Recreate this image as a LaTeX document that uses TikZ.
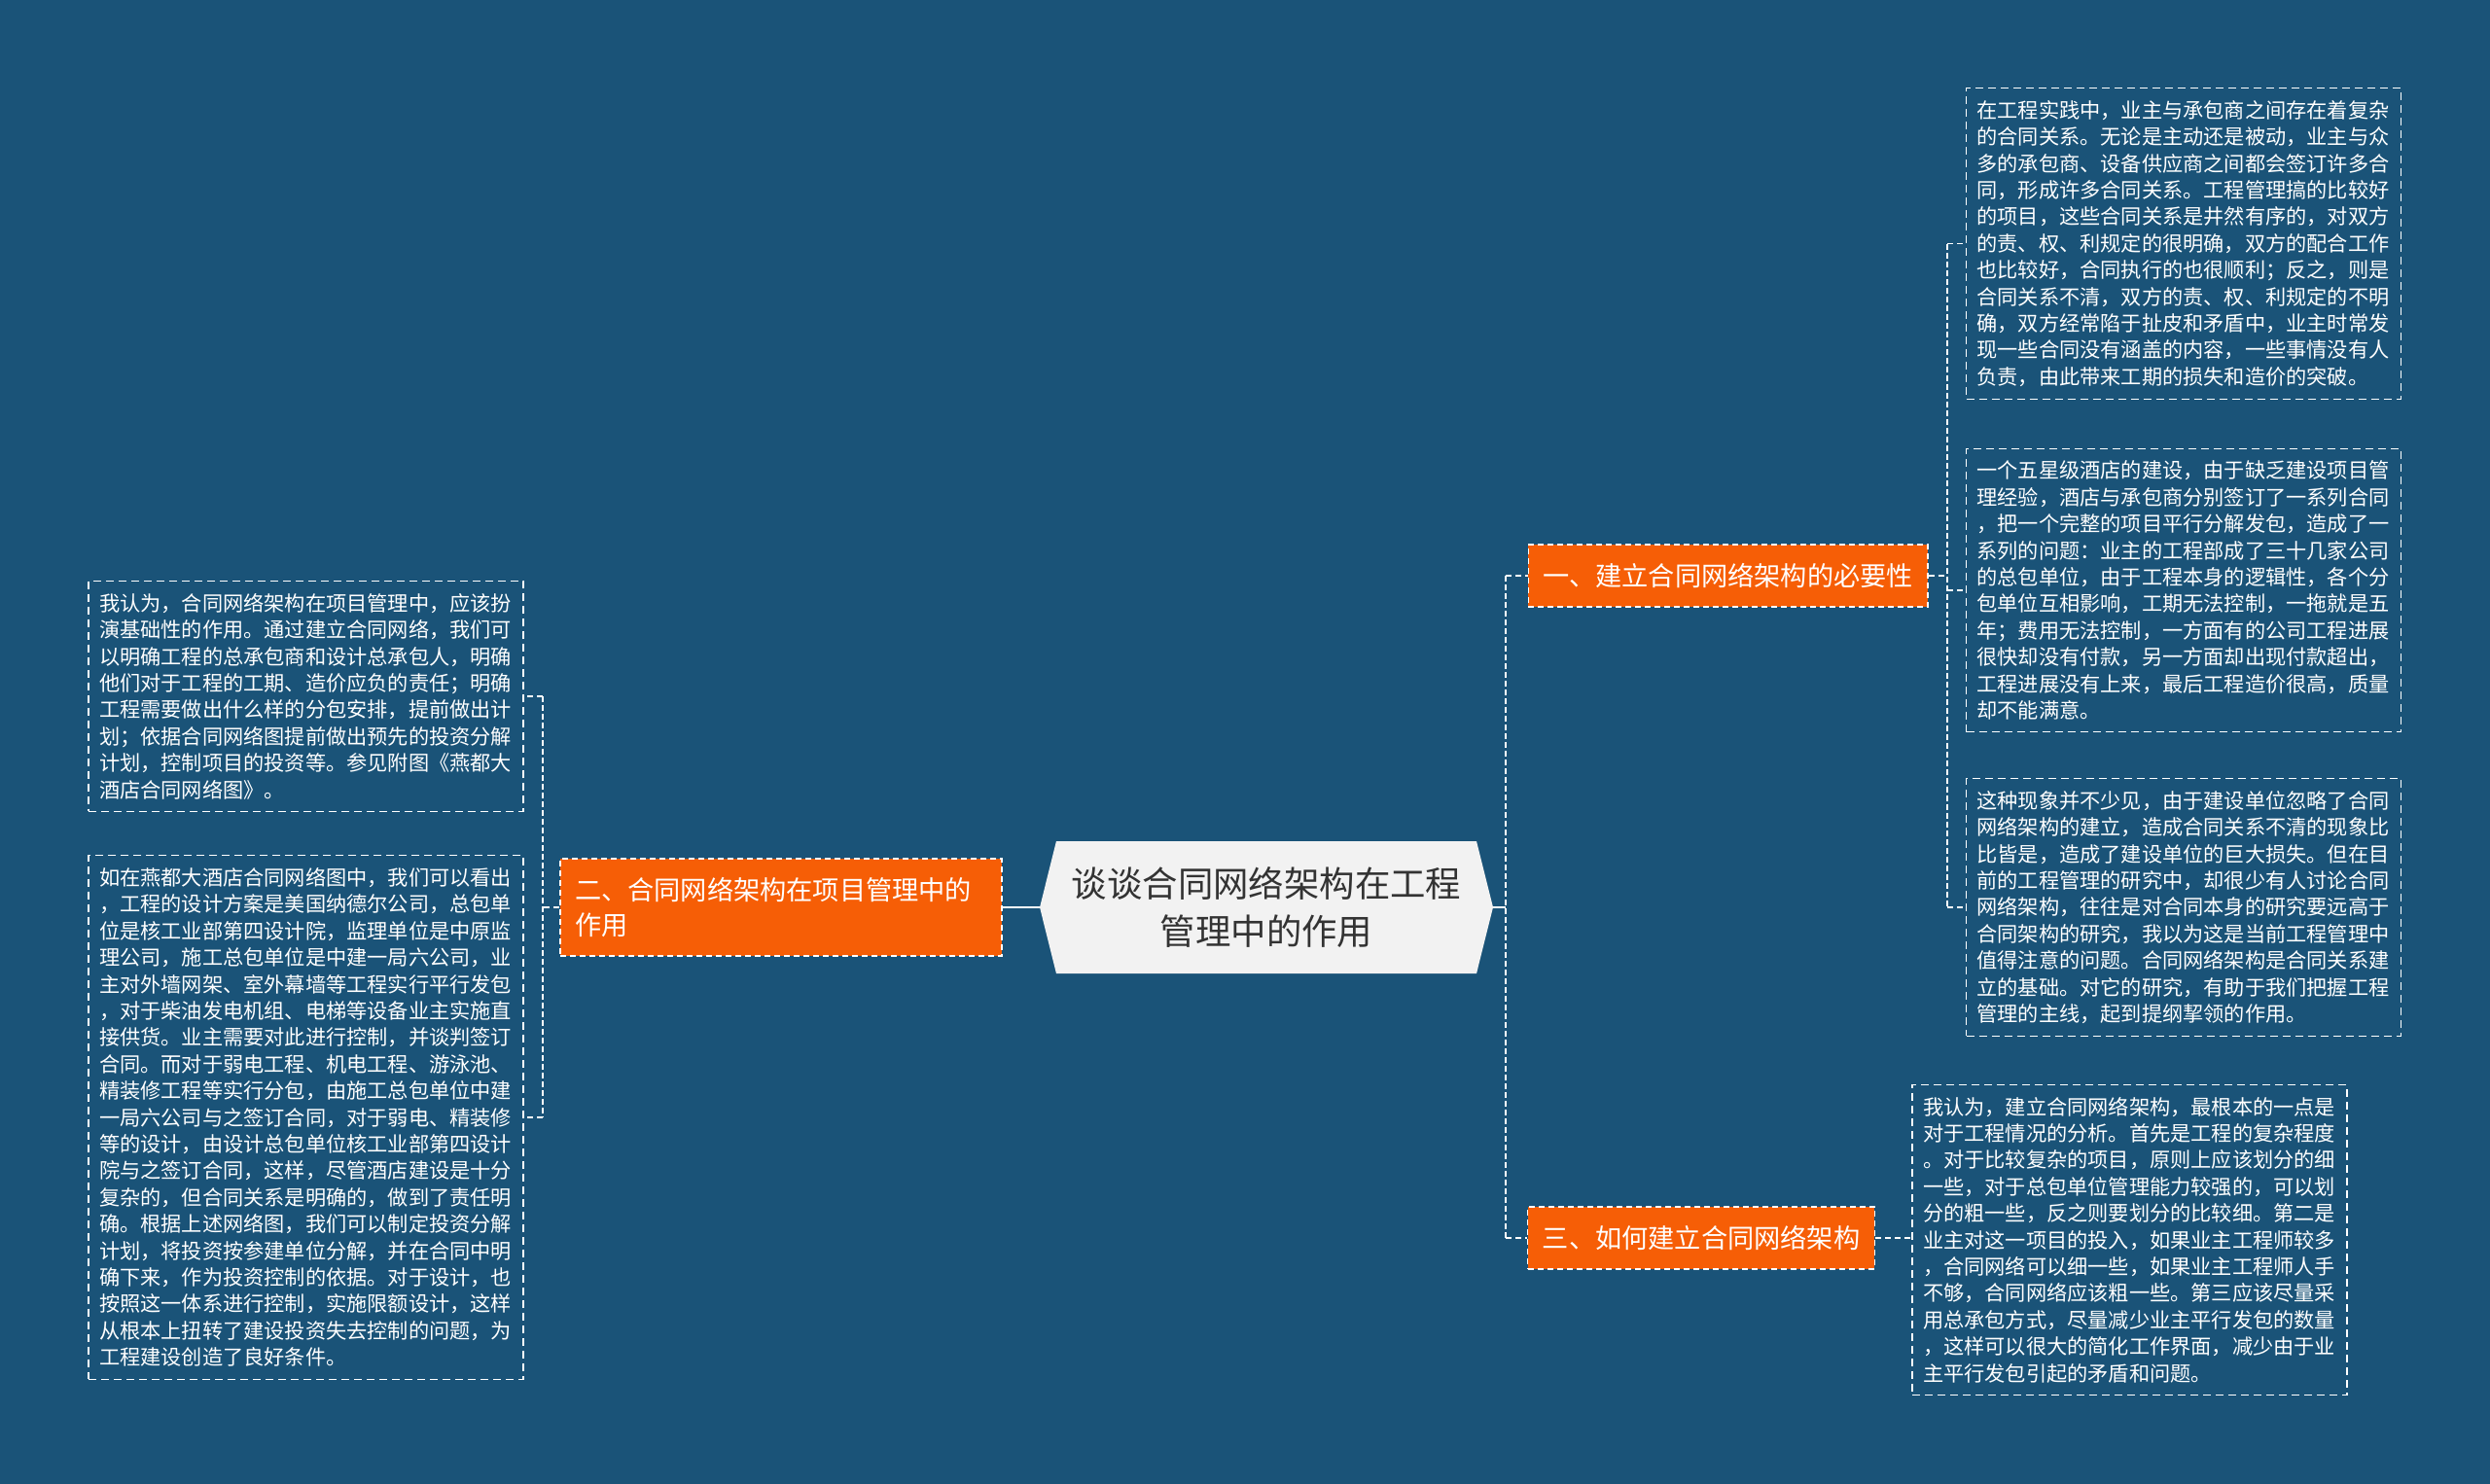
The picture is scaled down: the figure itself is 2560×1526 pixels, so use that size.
\documentclass[tikz,border=0pt]{standalone}
\usepackage{fontspec}
\setmainfont{Noto Sans CJK SC}
\usepackage{xcolor}
\usetikzlibrary{positioning, shapes.symbols}
\definecolor{bgblue}{RGB}{26,83,120}
\definecolor{branchorange}{RGB}{246,94,6}
\definecolor{rootgray}{RGB}{242,242,242}
\definecolor{roottext}{RGB}{51,51,51}

\begin{document}
\begin{tikzpicture}[x=0.5pt, y=-0.5pt,
    root/.style={signal, signal to=west and east, signal pointer angle=152, fill=rootgray, text=roottext,
        minimum width=233pt, minimum height=68pt, align=center, inner sep=0pt,
        font=\fontsize{18.2pt}{24.5pt}\selectfont},
    branch/.style={fill=branchorange, draw=white, dash pattern=on 3pt off 2pt, line width=0.6pt, text=white,
        font=\fontsize{13.6pt}{18pt}\selectfont, inner xsep=7.5pt, minimum height=32pt, align=left},
    leaf/.style={draw=white, dash pattern=on 4pt off 2.5pt, line width=0.6pt, text=white,
        font=\fontsize{10.6pt}{13.7pt}\selectfont, text width=212.5pt, align=left, inner xsep=5.5pt, inner ysep=6.3pt},
    link/.style={draw=white, line width=1pt},
    twig/.style={draw=white, line width=0.8pt, dash pattern=on 3pt off 2pt},
    spine/.style={draw=white, line width=1pt, dash pattern=on 3pt off 1.5pt}]

    % background
    \fill[bgblue] (0,0) rectangle (2560,1526);
    \useasboundingbox (0,0) rectangle (2560,1526);

    \node[root] (root) at (1302,933) {谈谈合同网络架构在工程\\管理中的作用};

    \node[branch] (b1) at (1776.5,592) {一、建立合同网络架构的必要性};
    \node[branch, text width=212pt, minimum height=50pt] (b2) at (803,933) {二、合同网络架构在项目管理中的\\作用};
    \node[branch] (b3) at (1749,1273) {三、如何建立合同网络架构};

    \node[leaf] (b1a) at (2245,250.5) {在工程实践中，业主与承包商之间存在着复杂\\的合同关系。无论是主动还是被动，业主与众\\多的承包商、设备供应商之间都会签订许多合\\同，形成许多合同关系。工程管理搞的比较好\\的项目，这些合同关系是井然有序的，对双方\\的责、权、利规定的很明确，双方的配合工作\\也比较好，合同执行的也很顺利；反之，则是\\合同关系不清，双方的责、权、利规定的不明\\确，双方经常陷于扯皮和矛盾中，业主时常发\\现一些合同没有涵盖的内容，一些事情没有人\\负责，由此带来工期的损失和造价的突破。};
    \node[leaf] (b1b) at (2245,607) {一个五星级酒店的建设，由于缺乏建设项目管\\理经验，酒店与承包商分别签订了一系列合同\\，把一个完整的项目平行分解发包，造成了一\\系列的问题：业主的工程部成了三十几家公司\\的总包单位，由于工程本身的逻辑性，各个分\\包单位互相影响，工期无法控制，一拖就是五\\年；费用无法控制，一方面有的公司工程进展\\很快却没有付款，另一方面却出现付款超出，\\工程进展没有上来，最后工程造价很高，质量\\却不能满意。};
    \node[leaf] (b1c) at (2245,933) {这种现象并不少见，由于建设单位忽略了合同\\网络架构的建立，造成合同关系不清的现象比\\比皆是，造成了建设单位的巨大损失。但在目\\前的工程管理的研究中，却很少有人讨论合同\\网络架构，往往是对合同本身的研究要远高于\\合同架构的研究，我以为这是当前工程管理中\\值得注意的问题。合同网络架构是合同关系建\\立的基础。对它的研究，有助于我们把握工程\\管理的主线，起到提纲挈领的作用。};

    \node[leaf] (b2a) at (314.5,716) {我认为，合同网络架构在项目管理中，应该扮\\演基础性的作用。通过建立合同网络，我们可\\以明确工程的总承包商和设计总承包人，明确\\他们对于工程的工期、造价应负的责任；明确\\工程需要做出什么样的分包安排，提前做出计\\划；依据合同网络图提前做出预先的投资分解\\计划，控制项目的投资等。参见附图《燕都大\\酒店合同网络图》。};
    \node[leaf] (b2b) at (314.5,1149) {如在燕都大酒店合同网络图中，我们可以看出\\，工程的设计方案是美国纳德尔公司，总包单\\位是核工业部第四设计院，监理单位是中原监\\理公司，施工总包单位是中建一局六公司，业\\主对外墙网架、室外幕墙等工程实行平行发包\\，对于柴油发电机组、电梯等设备业主实施直\\接供货。业主需要对此进行控制，并谈判签订\\合同。而对于弱电工程、机电工程、游泳池、\\精装修工程等实行分包，由施工总包单位中建\\一局六公司与之签订合同，对于弱电、精装修\\等的设计，由设计总包单位核工业部第四设计\\院与之签订合同，这样，尽管酒店建设是十分\\复杂的，但合同关系是明确的，做到了责任明\\确。根据上述网络图，我们可以制定投资分解\\计划，将投资按参建单位分解，并在合同中明\\确下来，作为投资控制的依据。对于设计，也\\按照这一体系进行控制，实施限额设计，这样\\从根本上扭转了建设投资失去控制的问题，为\\工程建设创造了良好条件。};

    \node[leaf] (b3a) at (2189.5,1275) {我认为，建立合同网络架构，最根本的一点是\\对于工程情况的分析。首先是工程的复杂程度\\。对于比较复杂的项目，原则上应该划分的细\\一些，对于总包单位管理能力较强的，可以划\\分的粗一些，反之则要划分的比较细。第二是\\业主对这一项目的投入，如果业主工程师较多\\，合同网络可以细一些，如果业主工程师人手\\不够，合同网络应该粗一些。第三应该尽量采\\用总承包方式，尽量减少业主平行发包的数量\\，这样可以很大的简化工作界面，减少由于业\\主平行发包引起的矛盾和问题。};

    % connectors
    \coordinate (rs) at (1548,933);
    \coordinate (ls) at (558,933);
    \coordinate (r1s) at (2002,592);

    \draw[link] (root.east) -- (rs);
    \draw[link] (root.west) -- (b2.east);
    \draw[spine] (rs |- b1.west) -- (rs |- b3.west);
    \draw[twig] (rs |- b1.west) -- (b1.west);
    \draw[twig] (rs |- b3.west) -- (b3.west);

    \draw[twig] (b1.east) -- (r1s);
    \draw[spine] (r1s |- b1a.west) -- (r1s |- b1c.west);
    \draw[twig] (r1s |- b1a.west) -- (b1a.west);
    \draw[twig] (r1s |- b1b.west) -- (b1b.west);
    \draw[twig] (r1s |- b1c.west) -- (b1c.west);

    \draw[twig] (b2.west) -- (ls);
    \draw[spine] (ls |- b2a.east) -- (ls |- b2b.east);
    \draw[twig] (ls |- b2a.east) -- (b2a.east);
    \draw[twig] (ls |- b2b.east) -- (b2b.east);

    \draw[twig] (b3.east) -- (b3.east -| b3a.west);
\end{tikzpicture}
\end{document}
